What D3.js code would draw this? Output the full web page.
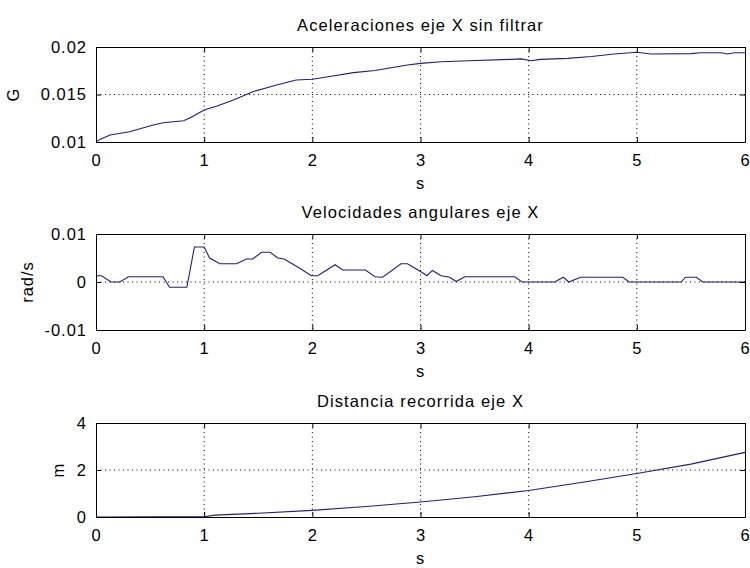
<!DOCTYPE html>
<html>
<head>
<meta charset="utf-8">
<script src="https://cdn.jsdelivr.net/npm/d3@7"></script>
<style>
  body { margin: 0; background: #fff; }
  svg text { font-family: "Liberation Sans", Arial, sans-serif; font-size: 16.5px; fill: #000; letter-spacing: 1px; }
</style>
</head>
<body>
<div id="chart"></div>
<script>
// time axis shared by the three panels
const xTicks = [0, 1, 2, 3, 4, 5, 6];

// aceleraciones eje X (G)
const accT = [0, 0.04, 0.13, 0.31, 0.53, 0.62, 0.81, 0.88, 1.0, 1.12, 1.27, 1.45, 1.67, 1.85, 2.0, 2.19, 2.38, 2.58, 2.7, 2.88, 3.0, 3.19, 3.44, 3.84, 3.93, 4.02, 4.11, 4.36, 4.58, 4.79, 5.0, 5.04, 5.13, 5.5, 5.59, 5.78, 5.84, 5.9, 6.0];
const accG = [0.0100, 0.0103, 0.01074, 0.01108, 0.01179, 0.01203, 0.01224, 0.0126, 0.01337, 0.01379, 0.01442, 0.0153, 0.0160, 0.01653, 0.0166, 0.01695, 0.0173, 0.01752, 0.01776, 0.0181, 0.01828, 0.01845, 0.01856, 0.0187, 0.01875, 0.01856, 0.0187, 0.0188, 0.0190, 0.01926, 0.01944, 0.0194, 0.01926, 0.0193, 0.0194, 0.0194, 0.01926, 0.0194, 0.0194];
const accTicks = [0.01, 0.015, 0.02];

// velocidades angulares eje X (rad/s)
const gyroT = [0, 0.05, 0.14, 0.22, 0.30, 0.62, 0.68, 0.84, 0.91, 1.0, 1.05, 1.145, 1.30, 1.39, 1.45, 1.53, 1.61, 1.68, 1.74, 1.88, 1.99, 2.05, 2.21, 2.28, 2.49, 2.58, 2.65, 2.82, 2.88, 3.0, 3.06, 3.11, 3.19, 3.27, 3.33, 3.41, 3.87, 3.94, 4.24, 4.32, 4.37, 4.48, 4.87, 4.93, 5.41, 5.45, 5.55, 5.61, 6.0];
const gyroW = [0.0013, 0.0013, 0, 0, 0.0011, 0.0011, -0.0011, -0.0011, 0.0073, 0.0073, 0.005, 0.0038, 0.0038, 0.0048, 0.0048, 0.0062, 0.0062, 0.005, 0.0048, 0.0029, 0.0013, 0.0013, 0.0036, 0.0025, 0.0025, 0.0011, 0.001, 0.0038, 0.0038, 0.0022, 0.0013, 0.0024, 0.0013, 0.001, 0.0001, 0.0011, 0.0011, 0, 0, 0.001, 0, 0.001, 0.001, 0, 0, 0.001, 0.001, 0, 0];
const gyroTicks = [-0.01, 0, 0.01];

// distancia recorrida eje X (m)
const distT = [0, 0.5, 1.0, 1.1, 1.5, 2.0, 2.5, 3.0, 3.5, 4.0, 4.5, 5.0, 5.5, 6.0];
const distM = [0, 0.005, 0.01, 0.08, 0.16, 0.28, 0.45, 0.64, 0.86, 1.13, 1.48, 1.85, 2.25, 2.75];
const distTicks = [0, 2, 4];

const width = 750, height = 568;
const left = 96, right = 745;

const panels = [
    {title: "Aceleraciones eje X sin filtrar", ylabel: "G", t: accT, v: accG, ticks: accTicks, fmt: d => d, top: 47, bottom: 142, ylabelX: 13, xlabel: true},
    {title: "Velocidades angulares eje X", ylabel: "rad/s", t: gyroT, v: gyroW, ticks: gyroTicks, fmt: d => d, top: 234, bottom: 330, ylabelX: 27, xlabel: true},
    {title: "Distancia recorrida eje X", ylabel: "m", t: distT, v: distM, ticks: distTicks, fmt: d => d, top: 423, bottom: 517, ylabelX: 58, xlabel: true}
];

const svg = d3.select("#chart").append("svg")
    .attr("width", width)
    .attr("height", height);

panels.forEach(p => {
    const x = d3.scaleLinear().domain([0, 6]).range([left, right]);
    const y = d3.scaleLinear().domain(d3.extent(p.ticks)).range([p.bottom, p.top]);
    const g = svg.append("g");

    // dotted grid
    g.selectAll(".gx").data(xTicks.slice(1, -1)).enter().append("line")
        .attr("x1", d => x(d)).attr("x2", d => x(d))
        .attr("y1", p.top).attr("y2", p.bottom)
        .attr("stroke", "#000").attr("stroke-dasharray", "1,3.5");
    g.selectAll(".gy").data(p.ticks.slice(1, -1)).enter().append("line")
        .attr("x1", left).attr("x2", right)
        .attr("y1", d => y(d)).attr("y2", d => y(d))
        .attr("stroke", "#000").attr("stroke-dasharray", "1,3.5");

    // data line
    const pts = p.t.map((t, i) => [t, p.v[i]]);
    g.append("path").datum(pts)
        .attr("fill", "none")
        .attr("stroke", "#1f1f78")
        .attr("stroke-width", 1.1)
        .attr("d", d3.line().x(d => x(d[0])).y(d => y(d[1])));

    // box with inner ticks on all sides
    g.append("g").attr("transform", `translate(0,${p.bottom})`)
        .call(d3.axisBottom(x).tickValues(xTicks).tickSizeInner(-5).tickSizeOuter(0).tickPadding(12).tickFormat(d3.format("d")));
    g.append("g").attr("transform", `translate(0,${p.top})`)
        .call(d3.axisTop(x).tickValues(xTicks).tickSizeInner(-5).tickSizeOuter(0).tickFormat(""));
    g.append("g").attr("transform", `translate(${left},0)`)
        .call(d3.axisLeft(y).tickValues(p.ticks).tickSizeInner(-5).tickSizeOuter(0).tickPadding(9).tickFormat(p.fmt));
    g.append("g").attr("transform", `translate(${right},0)`)
        .call(d3.axisRight(y).tickValues(p.ticks).tickSizeInner(-5).tickSizeOuter(0).tickFormat(""));

    g.selectAll(".domain").attr("stroke", "#000");
    g.selectAll(".tick line").attr("stroke", "#000");
    g.selectAll(".tick text").attr("font-family", null).attr("font-size", null).attr("fill", "#000");

    // title
    g.append("text")
        .attr("x", (left + right) / 2)
        .attr("y", p.top - 16)
        .attr("text-anchor", "middle")
        .style("letter-spacing", "1.1px")
        .text(p.title);

    // x label
    g.append("text")
        .attr("x", (left + right) / 2)
        .attr("y", p.bottom + 47)
        .attr("text-anchor", "middle")
        .text("s");

    // y label
    g.append("text")
        .attr("transform", `translate(${p.ylabelX},${(p.top + p.bottom) / 2}) rotate(-90)`)
        .attr("text-anchor", "middle")
        .attr("dominant-baseline", "central")
        .text(p.ylabel);
});
</script>
</body>
</html>
